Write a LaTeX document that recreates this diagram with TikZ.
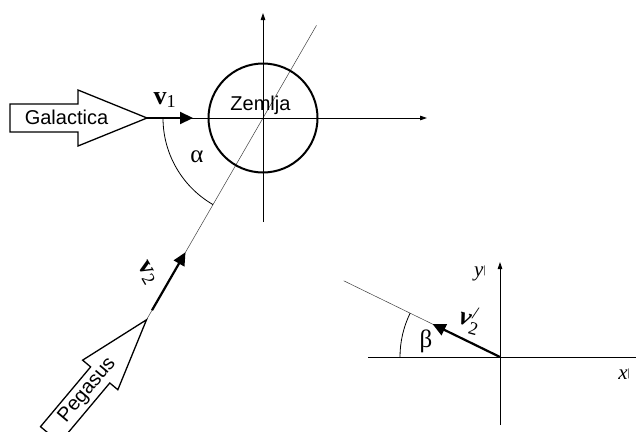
\documentclass[tikz,border=0pt]{standalone}
\usepackage{fontspec}
\usepackage{amsmath}
\usepackage{graphicx}
\setmainfont{Liberation Serif}
\newfontfamily\sansf{Liberation Sans}
\usetikzlibrary{arrows.meta,calc}
\begin{document}
\begin{tikzpicture}[x=1pt,y=-1pt,
  axis/.style={line width=0.8pt,-{Triangle[length=7pt,width=4.5pt]}},
  plainaxis/.style={line width=0.8pt},
  vec/.style={line width=2.2pt,-{Triangle[length=13pt,width=12pt]}},
  ship/.style={draw,line width=1.3pt,fill=white,line join=miter},
  sans/.style={font=\sansf\fontsize{20}{24}\selectfont,inner sep=0pt},
  lab/.style={font=\fontsize{26}{30}\selectfont,inner sep=0pt},
  glab/.style={font=\fontsize{25}{29}\selectfont,inner sep=0pt},
  axlab/.style={font=\fontsize{21}{25}\selectfont,inner sep=0pt},
  thinline/.style={line width=0.5pt,black!75}]
\useasboundingbox (0,0) rectangle (636,431);
\clip (0,0) rectangle (636,431);
% ---------- upper system ----------
\coordinate (O) at (263,118);
\coordinate (Xe) at (427,118);
\coordinate (Yb) at (263,222);
\coordinate (Yt) at (263,13);
\coordinate (Gt) at (147,118);
\coordinate (V1) at (193,118);
\coordinate (Lt) at ($(O)+(-60:107)$);
\coordinate (Pt) at ($(O)+(120:233)$);
\coordinate (V2s) at ($(O)+(120:222)$);
\coordinate (V2e) at ($(O)+(120:155)$);
\draw[thinline] (Pt) -- (Lt);
\draw[axis] (Gt) -- (Xe);
\draw[axis] (Yb) -- (Yt);
\draw[line width=2pt] (O) circle[radius=54.5];
\node[sans,anchor=base] (zem) at (260.5,110) {Zemlja};
\draw[line width=0.8pt] (O) ++(180:100) coordinate (As) arc[start angle=180,end angle=120,radius=100] coordinate (Ae);
\node[glab] (alpha) at (197,157) {α};
% Galactica
\draw[ship] (10,104) -- (78,104) -- (78,90) -- (Gt) -- (78,146) -- (78,132) -- (10,132) -- cycle;
\node[sans,anchor=base] (gal) at (66.5,124) {Galactica};
\draw[vec] (Gt) -- (V1);
\node[lab] (v1) at (165,100) {\textbf{v}$_{\text{1}}$};
% Pegasus
\begin{scope}[shift={(Pt)},rotate=50]
  \draw[ship] (0,0) -- (-72,-23) -- (-72,-12.5) -- (-150,-12.5) -- (-150,12.5) -- (-72,12.5) -- (-72,23) -- cycle;
  \node[sans,rotate=50] (peg) at (-92,0) {Pegasus};
\end{scope}
\draw[vec] (V2s) -- (V2e);
\node[lab,rotate=-60] (v2) at (147,273) {\textbf{v}$_{\text{2}}$};
% ---------- lower system ----------
\coordinate (Q) at (500,357);
\coordinate (Xl) at (368,357);
\coordinate (Xr) at (636,357);
\coordinate (Yl) at (500,425);
\coordinate (Yu) at (500,262);
\coordinate (Bt) at ($(Q)+(-154:174)$);
\coordinate (W) at ($(Q)+(-154:75)$);
\draw[thinline] (Q) -- (Bt);
\draw[plainaxis] (Xl) -- (Xr);
\draw[axis] (Yl) -- (Yu);
\draw[vec] (Q) -- (W);
\draw[line width=0.8pt] (Q) ++(180:100) arc[start angle=180,end angle=206,radius=100];
\node[glab] (beta) at (426,341) {β};
\node[lab,rotate=-15] (v2p) at (470,320) {\textbf{\textit{v}}$_{\text{2}}^{\text{/}}$};
\node[axlab] (yp) at (480,273) {\textit{y}\raisebox{3pt}{\fontsize{11}{11}\selectfont |}};
\node[axlab] (xp) at (624,374) {\textit{x}\raisebox{3pt}{\fontsize{11}{11}\selectfont |}};
\end{tikzpicture}
\end{document}
